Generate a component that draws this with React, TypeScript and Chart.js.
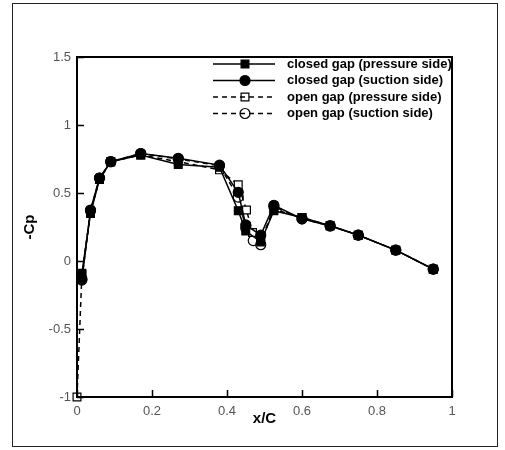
import React, { useEffect, useRef } from 'react';
import { Chart, registerables } from 'chart.js';

Chart.register(...registerables);

// x/C positions and -Cp values
const xClosedPressure = [0.013, 0.036, 0.06, 0.09, 0.17, 0.27, 0.38, 0.43, 0.45, 0.49, 0.525, 0.6, 0.675, 0.75, 0.85, 0.95];
const yClosedPressure = [-0.09, 0.35, 0.6, 0.73, 0.78, 0.71, 0.69, 0.37, 0.22, 0.14, 0.37, 0.32, 0.26, 0.19, 0.08, -0.06];

const xClosedSuction = [0.013, 0.036, 0.06, 0.09, 0.17, 0.27, 0.38, 0.43, 0.45, 0.49, 0.525, 0.6, 0.675, 0.75, 0.85, 0.95];
const yClosedSuction = [-0.14, 0.375, 0.61, 0.73, 0.79, 0.755, 0.705, 0.505, 0.265, 0.19, 0.41, 0.31, 0.257, 0.19, 0.08, -0.06];

const xOpenPressure = [0, 0.013, 0.036, 0.06, 0.09, 0.17, 0.27, 0.38, 0.43, 0.452, 0.468, 0.49, 0.525, 0.6, 0.675, 0.75, 0.85, 0.95];
const yOpenPressure = [-1.0, -0.1, 0.36, 0.6, 0.73, 0.78, 0.73, 0.67, 0.56, 0.375, 0.21, 0.15, 0.38, 0.32, 0.26, 0.19, 0.08, -0.06];

const xOpenSuction = [0.013, 0.036, 0.06, 0.09, 0.17, 0.27, 0.38, 0.43, 0.45, 0.47, 0.49, 0.525, 0.6, 0.675, 0.75, 0.85, 0.95];
const yOpenSuction = [-0.13, 0.37, 0.61, 0.73, 0.79, 0.75, 0.7, 0.47, 0.24, 0.15, 0.12, 0.4, 0.31, 0.26, 0.19, 0.08, -0.06];

const seriesLabels = [
  'closed gap (pressure side)',
  'closed gap (suction side)',
  'open gap (pressure side)',
  'open gap (suction side)',
];

const xTickValues = [0, 0.2, 0.4, 0.6, 0.8, 1];
const yTickValues = [-1, -0.5, 0, 0.5, 1, 1.5];

const xTitle = 'x/C';
const yTitle = '-Cp';

const pts = (xs: number[], ys: number[]) => xs.map((x, i) => ({ x, y: ys[i] }));

const fmt = (v: number) => String(Number(v.toFixed(2)));

export default function App() {
  const ref = useRef<HTMLCanvasElement>(null);

  useEffect(() => {
    if (!ref.current) return;
    const dash = [5, 4];

    const decor = {
      id: 'decor',
      beforeDraw(chart: any) {
        const ctx = chart.ctx;
        ctx.save();
        ctx.fillStyle = '#fff';
        ctx.fillRect(0, 0, chart.width, chart.height);
        ctx.strokeStyle = '#222';
        ctx.lineWidth = 1;
        ctx.strokeRect(12.5, 3.5, 485, 443);
        ctx.restore();
      },
      afterDatasetsDraw(chart: any) {
        const ctx = chart.ctx;
        const a = chart.chartArea;
        const xs = chart.scales.x;
        const ys = chart.scales.y;
        ctx.save();
        ctx.strokeStyle = '#000';
        ctx.lineWidth = 2;
        ctx.strokeRect(a.left, a.top, a.right - a.left, a.bottom - a.top);
        ctx.lineWidth = 1.5;
        ctx.beginPath();
        xTickValues.forEach((v) => {
          const px = Math.round(xs.getPixelForValue(v)) + 0.5;
          ctx.moveTo(px, a.bottom);
          ctx.lineTo(px, a.bottom - 7);
        });
        yTickValues.forEach((v) => {
          const py = Math.round(ys.getPixelForValue(v)) + 0.5;
          ctx.moveTo(a.left, py);
          ctx.lineTo(a.left + 7, py);
        });
        ctx.stroke();
        ctx.restore();
      },
      afterDraw(chart: any) {
        const ctx = chart.ctx;
        ctx.save();
        const rowsY = [64, 80.5, 97, 113.5];
        const x0 = 213, x1 = 275, xm = 245, tx = 287;
        chart.data.datasets.forEach((ds: any, i: number) => {
          const y = rowsY[i];
          ctx.strokeStyle = '#000';
          ctx.lineWidth = 1.5;
          ctx.setLineDash(ds.borderDash || []);
          ctx.beginPath();
          ctx.moveTo(x0, y);
          ctx.lineTo(x1, y);
          ctx.stroke();
          ctx.setLineDash([]);
          ctx.beginPath();
          if (ds.pointStyle === 'rect') {
            const s = ds.pointRadius * Math.SQRT1_2;
            ctx.rect(xm - s, y - s, 2 * s, 2 * s);
          } else {
            ctx.arc(xm, y, ds.pointRadius, 0, Math.PI * 2);
          }
          if (!ds.borderDash) {
            ctx.fillStyle = ds.pointBackgroundColor;
            ctx.fill();
          }
          ctx.lineWidth = 1.2;
          ctx.stroke();
          ctx.fillStyle = '#000';
          ctx.font = 'bold 13px "Liberation Sans", Arial, sans-serif';
          ctx.textBaseline = 'middle';
          ctx.textAlign = 'left';
          ctx.fillText(ds.label, tx, y);
        });
        ctx.restore();
      },
    };

    const common = {
      showLine: true,
      borderColor: '#000',
      borderWidth: 1.5,
      pointBorderColor: '#000',
      pointBorderWidth: 1.2,
      clip: false,
      tension: 0,
    };

    const chart = new Chart(ref.current, {
      type: 'scatter',
      data: {
        datasets: [
          {
            ...common,
            label: seriesLabels[0],
            data: pts(xClosedPressure, yClosedPressure),
            pointStyle: 'rect',
            pointRadius: 5.5,
            pointBackgroundColor: '#000',
            order: 1,
          },
          {
            ...common,
            label: seriesLabels[1],
            data: pts(xClosedSuction, yClosedSuction),
            pointStyle: 'circle',
            pointRadius: 5,
            pointBackgroundColor: '#000',
            order: 0,
          },
          {
            ...common,
            label: seriesLabels[2],
            data: pts(xOpenPressure, yOpenPressure),
            pointStyle: 'rect',
            pointRadius: 5.5,
            pointBackgroundColor: '#fff',
            borderDash: dash,
            order: 2,
          },
          {
            ...common,
            label: seriesLabels[3],
            data: pts(xOpenSuction, yOpenSuction),
            pointStyle: 'circle',
            pointRadius: 5,
            pointBackgroundColor: '#fff',
            borderDash: dash,
            order: 3,
          },
        ] as any,
      },
      options: {
        animation: false,
        responsive: false,
        devicePixelRatio: 1,
        layout: { padding: { left: 0, top: 57, right: 53, bottom: 0 } },
        plugins: { legend: { display: false }, tooltip: { enabled: false } },
        scales: {
          x: {
            type: 'linear',
            min: 0,
            max: 1,
            afterFit: (s: any) => { s.height = 53; },
            afterBuildTicks: (s: any) => { s.ticks = xTickValues.map((v) => ({ value: v })); },
            grid: { display: true, drawOnChartArea: false, drawTicks: false },
            border: { display: false },
            ticks: {
              padding: 7,
              color: '#555',
              font: { family: '"Liberation Sans", Arial, sans-serif', size: 13 },
              callback: (v: any) => fmt(Number(v)),
              maxRotation: 0,
            },
            title: {
              display: true,
              text: xTitle,
              color: '#000',
              font: { family: '"Liberation Sans", Arial, sans-serif', size: 15, weight: 'bold' },
              padding: { top: 0, bottom: 22 },
            },
          },
          y: {
            type: 'linear',
            min: -1,
            max: 1.5,
            afterFit: (s: any) => { s.width = 77; },
            afterBuildTicks: (s: any) => { s.ticks = yTickValues.map((v) => ({ value: v })); },
            grid: { display: true, drawOnChartArea: false, drawTicks: false },
            border: { display: false },
            ticks: {
              padding: 6,
              color: '#555',
              font: { family: '"Liberation Sans", Arial, sans-serif', size: 13 },
              callback: (v: any) => fmt(Number(v)),
            },
            title: {
              display: true,
              text: yTitle,
              color: '#000',
              font: { family: '"Liberation Sans", Arial, sans-serif', size: 15, weight: 'bold' },
              padding: { top: 21, bottom: 0 },
            },
          },
        },
      } as any,
      plugins: [decor],
    });
    return () => chart.destroy();
  }, []);

  return (
    <div style={{ position: 'absolute', left: 0, top: 0, width: 505, height: 450 }}>
      <canvas ref={ref} width={505} height={450} style={{ width: 505, height: 450, display: 'block' }} />
    </div>
  );
}
